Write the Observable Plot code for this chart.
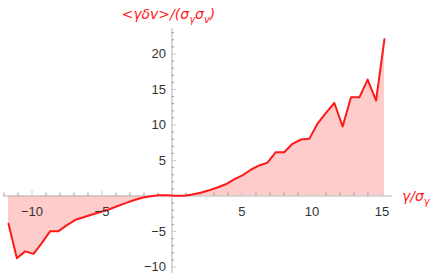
<!DOCTYPE html>
<html>
<head>
<meta charset="utf-8">
<script src="https://cdn.jsdelivr.net/npm/d3@7"></script>
<script src="https://cdn.jsdelivr.net/npm/@observablehq/plot@0.6"></script>
<style>
  html, body { margin: 0; padding: 0; background: #fff; }
  #chart { width: 438px; height: 277px; }
</style>
</head>
<body>
<div id="chart"></div>
<script>
// x = γ/σγ, y = <γδv>/(σγ σv)
const xValues = [-11.68, -11.08, -10.49, -9.89, -9.29, -8.70, -8.10, -7.50, -6.90, -6.31,
  -5.71, -5.11, -4.52, -3.92, -3.32, -2.73, -2.13, -1.53, -0.94, -0.34,
  0.26, 0.86, 1.45, 2.05, 2.65, 3.24, 3.84, 4.44, 5.03, 5.63,
  6.23, 6.82, 7.42, 8.02, 8.61, 9.21, 9.81, 10.40, 11.00, 11.60,
  12.19, 12.79, 13.39, 13.98, 14.58, 15.18];
const yValues = [-3.9, -8.76, -7.8, -8.15, -6.6, -4.95, -4.95, -4.1, -3.35, -3.0,
  -2.6, -2.25, -1.9, -1.45, -1.0, -0.6, -0.25, -0.05, 0.1, 0.1,
  0.02, 0.05, 0.2, 0.45, 0.8, 1.2, 1.65, 2.35, 2.9, 3.7,
  4.3, 4.7, 6.17, 6.17, 7.35, 7.96, 8.05, 10.2, 11.7, 13.1,
  9.8, 13.9, 13.9, 16.4, 13.45, 22.1];
const xTickLabels = [-10, -5, 5, 10, 15];
const yTickLabels = [-10, -5, 5, 10, 15, 20];
const xMinorTicks = d3.range(-12, 16);
const yMinorTicks = d3.range(-10, 24);

const data = xValues.map((x, i) => ({x, y: yValues[i]}));
const fmt = v => (v < 0 ? "\u2212" + Math.abs(v) : String(v));

const red = "#ff1a1a";
const axisGray = "#b4b4b4";
const tickGray = "#9a9a9a";
const pxX = 1 / 14;   // one pixel in x units
const pxY = 1 / 7.1;  // one pixel in y units

const plot = Plot.plot({
  width: 438,
  height: 277,
  margin: 0,
  x: {domain: [-12.25, 19.04], axis: null},
  y: {domain: [-11.48, 27.54], axis: null},
  style: {fontFamily: "Liberation Sans, Arial, sans-serif", background: "white"},
  marks: [
    Plot.areaY(data, {x: "x", y: "y", fill: "#ffcccc", fillOpacity: 1}),
    Plot.ruleY([0], {x1: -12.04, x2: 15.75, stroke: axisGray, strokeWidth: 1}),
    Plot.ruleX([0], {y1: -10.9, y2: 23.6, stroke: axisGray, strokeWidth: 1}),
    Plot.ruleX(xMinorTicks.filter(v => v !== 0 && v % 5 !== 0), {x: d => d, y1: 0, y2: 3 * pxY, stroke: tickGray, strokeWidth: 1}),
    Plot.ruleX(xTickLabels, {x: d => d, y1: 0, y2: 5 * pxY, stroke: "#c8c8c8", strokeWidth: 1}),
    Plot.ruleY(yMinorTicks.filter(v => v !== 0 && v % 5 !== 0), {y: d => d, x1: 0, x2: 2.5 * pxX, stroke: tickGray, strokeWidth: 1}),
    Plot.ruleY(yTickLabels, {y: d => d, x1: 0, x2: 4.5 * pxX, stroke: "#c8c8c8", strokeWidth: 1}),
    Plot.lineY(data, {x: "x", y: "y", stroke: red, strokeWidth: 2, strokeLinejoin: "round"}),
    Plot.text(xTickLabels, {x: d => d, y: 0, text: fmt, dy: 16, fontSize: 13, fill: "#333"}),
    Plot.text(yTickLabels, {x: 0, y: d => d, text: fmt, dx: -6, textAnchor: "end", fontSize: 13, fill: "#333"})
  ]
});

document.getElementById("chart").appendChild(plot);

// axis labels with subscripts
const svg = d3.select(plot);
const sx = v => plot.scale("x").apply(v);
const sy = v => plot.scale("y").apply(v);
const lab = svg.append("g")
  .attr("fill", red)
  .attr("font-family", "DejaVu Sans, sans-serif")
  .attr("font-style", "italic")
  .attr("font-size", 14)
  .attr("text-anchor", "start");

function addLabel(x, y, parts) {
  const t = lab.append("text").attr("x", x).attr("y", y).attr("text-anchor", "start");
  let prevSub = false;
  parts.forEach(([s, sub]) => {
    const ts = t.append("tspan").text(s);
    if (sub) {
      ts.attr("font-size", 10).attr("dy", prevSub ? 0 : 4);
    } else {
      ts.attr("dy", prevSub ? -4 : 0);
    }
    prevSub = !!sub;
  });
}

addLabel(sx(0) - 50, 19, [["<\u03b3\u03b4v>/(\u03c3"], ["\u03b3", 1], ["\u03c3"], ["v", 1], [")"]]);
addLabel(sx(15.75) + 10, sy(0) + 5, [["\u03b3/\u03c3"], ["\u03b3", 1]]);
</script>
</body>
</html>
